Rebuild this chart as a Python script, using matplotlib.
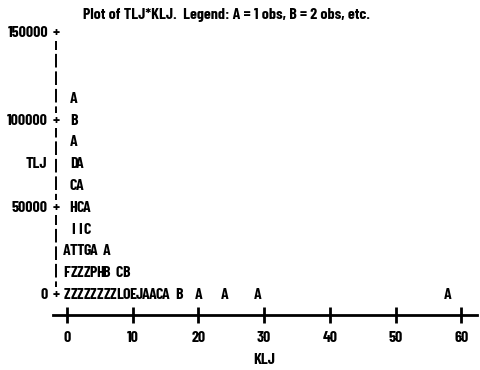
import matplotlib.pyplot as plt

# plot symbols: each string starts at its KLJ value, one print column per KLJ unit
mark_klj = [1, 1, 1, 1, 1, 1, 1, 0, 6, 0, 8, 0, 17, 20, 24, 29, 58]
mark_tlj = [112500, 100000, 87500, 75000, 62500, 50000, 37500, 25000, 25000,
            12500, 12500, 0, 0, 0, 0, 0, 0]
mark_text = ["A", "B", "A", "DA", "CA", "HCA", "IIC", "ATTGA", "A", "FZZZPHB", "CB",
             "ZZZZZZZZLOEJAACA", "B", "A", "A", "A", "A"]

x_ticks = [0, 10, 20, 30, 40, 50, 60]
y_ticks = [0, 50000, 100000, 150000]
y_tick_labels = ["0", "50000", "100000", "150000"]

title = "Plot of TLJ*KLJ.  Legend: A = 1 obs, B = 2 obs, etc."

plt.rcParams['font.family'] = ['Barlow Condensed', 'DejaVu Sans']
plt.rcParams['font.weight'] = 'bold'

fig = plt.figure(figsize=(4.81, 3.70), dpi=100)
ax = fig.add_axes([0, 0, 1, 1])
ax.set_xlim(-10.2, 63.0)
ax.set_ylim(-43000, 169150)
ax.axis('off')

fs = 11.5

# vertical axis (dashed, with + at ticks)
ax.plot([-1.67, -1.67], [0, 150000], color='black', lw=1.4, dashes=(7, 2))
for yt, lab in zip(y_ticks, y_tick_labels):
    ax.text(-1.67, yt, "+", ha='center', va='center', fontsize=fs, color='black',
            bbox=dict(facecolor='white', edgecolor='none', pad=0.5))
    ax.text(-2.9, yt, lab, ha='right', va='center', fontsize=fs)
ax.text(-4.6, 75000, "TLJ", ha='center', va='center', fontsize=fs)

# horizontal axis
ax.plot([-2.13, 62.4], [-11470, -11470], color='black', lw=2)
ax.plot(x_ticks, [-11470] * len(x_ticks), linestyle='none', marker='|',
        markersize=11, markeredgewidth=2, color='black')
for xt in x_ticks:
    ax.text(xt, -24650, str(xt), ha='center', va='center', fontsize=fs)
ax.text(30, -37300, "KLJ", ha='center', va='center', fontsize=fs)

# plot letters
for k, t, s in zip(mark_klj, mark_tlj, mark_text):
    for i, ch in enumerate(s):
        ax.text(k + i, t, ch, ha='center', va='center', fontsize=fs)

fig.text(0.47, 1 - 15 / 370, title, ha='center', va='center', fontsize=fs)

fig.savefig("out.png", dpi=100)
